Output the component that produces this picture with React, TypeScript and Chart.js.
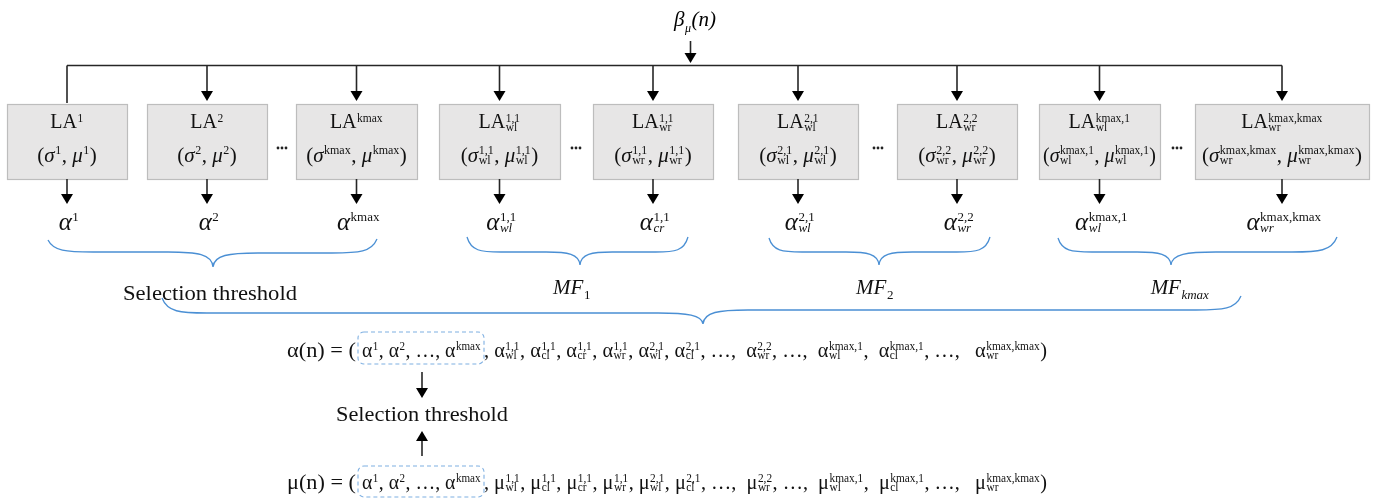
import React, { useEffect, useRef } from "react";
import { Chart, registerables } from "chart.js";
Chart.register(...registerables);

// ---------------- data ----------------
const BETA_LABEL = "~β~_{~μ}~(n)~";
const BOX_TITLES = ["LA^{1}", "LA^{2}", "LA^{kmax}", "LA_{wl}^{1,1}", "LA_{wr}^{1,1}", "LA_{wl}^{2,1}", "LA_{wr}^{2,2}", "LA_{wl}^{kmax,1}", "LA_{wr}^{kmax,kmax}"];
const BOX_PARAMS = ["(~σ~^{1}, ~μ~^{1})", "(~σ~^{2}, ~μ~^{2})", "(~σ~^{kmax}, ~μ~^{kmax})", "(~σ~_{wl}^{1,1}, ~μ~_{wl}^{1,1})", "(~σ~_{wr}^{1,1}, ~μ~_{wr}^{1,1})", "(~σ~_{wl}^{2,1}, ~μ~_{wl}^{2,1})", "(~σ~_{wr}^{2,2}, ~μ~_{wr}^{2,2})", "(~σ~_{wl}^{kmax,1}, ~μ~_{wl}^{kmax,1})", "(~σ~_{wr}^{kmax,kmax}, ~μ~_{wr}^{kmax,kmax})"];
const BOX_OUTPUTS = ["~α~^{1}", "~α~^{2}", "~α~^{kmax}", "~α~_{~wl}^{1,1}", "~α~_{~cr}^{1,1}", "~α~_{~wl}^{2,1}", "~α~_{~wr}^{2,2}", "~α~_{~wl}^{kmax,1}", "~α~_{~wr}^{kmax,kmax}"];
const BRACE_LABELS = ["Selection threshold", "~MF~_{1}", "~MF~_{2}", "~MF~_{~kmax}"];
const ROW_SYMBOLS = ["α", "μ"];
const ROW_BOXED = "α^{1}, α^{2}, …, α^{kmax}";
const ROW_TERMS = ["_{wl}^{1,1}", "_{cl}^{1,1}", "_{cr}^{1,1}", "_{wr}^{1,1}", "_{wl}^{2,1}", "_{cl}^{2,1}", "…", "_{wr}^{2,2}", "…", "_{wl}^{kmax,1}", "_{cl}^{kmax,1}", "…", "_{wr}^{kmax,kmax}"];
const ROW_SEPS = [", ", ", ", ", ", ", ", ", ", ", ", ",  ", ", ", ",  ", ",  ", ", ", ",   ", ")"];
const THRESHOLD_LABEL = "Selection threshold";

// ---------------- layout ----------------
const W = 1377, H = 502;
const BOX_L = [7, 147, 296, 439, 593, 738, 897, 1039, 1195];
const BOX_R = [127, 267, 417, 560, 713, 858, 1017, 1160, 1369];
const BOX_TOP = 104, BOX_BOT = 179;
const BUS_Y = 65.5;
const GAP_DOTS_X = [282, 576, 878, 1177];
const BRACES = [
  { x1: 48, y1: 240, x2: 377, y2: 239, xc: 213, fl: 252, fr: 253, tip: 267 },
  { x1: 467, y1: 237, x2: 688, y2: 237, xc: 580, fl: 252, fr: 252, tip: 265 },
  { x1: 769, y1: 238, x2: 990, y2: 237, xc: 879, fl: 252, fr: 252, tip: 265 },
  { x1: 1058, y1: 238, x2: 1337, y2: 237, xc: 1171, fl: 252, fr: 252, tip: 265 },
  { x1: 162, y1: 298, x2: 1241, y2: 296, xc: 703, fl: 313, fr: 310, tip: 324 },
];
const BRACE_LABEL_POS = [[210, 300], [572, 294], [875, 294], [1180, 294]];

const FAM = '"Liberation Serif", "DejaVu Serif", serif';
const ST = {
  title: { F: 20, f: 11.5, supDy: -6.5, subDy: 3 },
  param: { F: 21, f: 12, supDy: -8.5, subDy: 2 },
  alpha: { F: 25, f: 13, supDy: -9.5, subDy: 2 },
  beta: { F: 21, f: 12, supDy: -8, subDy: 6 },
  mf: { F: 21, f: 13, supDy: -8, subDy: 5 },
  sel: { F: 21, f: 12, supDy: -8, subDy: 3 },
  row: { F: 20.5, f: 11.5, supDy: -7, subDy: 1.5 },
};

type Tok = { k: "t"; text: string; it: boolean } | { k: "s"; sup?: { text: string; it: boolean }; sub?: { text: string; it: boolean } };

function parse(s: string): Tok[] {
  const toks: any[] = [];
  let it = false, buf = "", lastScript = false;
  const flush = () => { if (buf) { toks.push({ k: "t", text: buf, it }); buf = ""; } };
  for (let i = 0; i < s.length; i++) {
    const c = s[i];
    if (c === "~") { flush(); it = !it; lastScript = false; continue; }
    if (c === "^" || c === "_") {
      flush();
      let g: string;
      if (s[i + 1] === "{") { const j = s.indexOf("}", i + 2); g = s.slice(i + 2, j); i = j; }
      else { g = s[i + 1]; i++; }
      let grp = lastScript ? toks[toks.length - 1] : null;
      if (!grp) { grp = { k: "s" }; toks.push(grp); }
      grp[c === "^" ? "sup" : "sub"] = { text: g.replace(/~/g, ""), it: g.startsWith("~") };
      lastScript = true;
      continue;
    }
    lastScript = false;
    buf += c;
  }
  flush();
  return toks;
}

const font = (it: boolean, size: number) => `${it ? "italic " : ""}${size}px ${FAM}`;

function measureRich(ctx: CanvasRenderingContext2D, toks: Tok[], st: any) {
  let w = 0;
  for (const t of toks) {
    if (t.k === "t") { ctx.font = font(t.it, st.F); w += ctx.measureText(t.text).width; }
    else {
      let a = 0, b = 0;
      if (t.sup) { ctx.font = font(t.sup.it, st.f); a = ctx.measureText(t.sup.text).width; }
      if (t.sub) { ctx.font = font(t.sub.it, st.f); b = ctx.measureText(t.sub.text).width; }
      w += Math.max(a, b) + 1;
    }
  }
  return w;
}

function drawRich(ctx: CanvasRenderingContext2D, s: string, x: number, y: number, st: any, align: "left" | "center" | "right", opts: { target?: number; max?: number } = {}) {
  const toks = parse(s);
  const w = measureRich(ctx, toks, st);
  let sx = 1;
  if (opts.target) sx = opts.target / w;
  else if (opts.max && w > opts.max) sx = opts.max / w;
  const tw = w * sx;
  const x0 = align === "left" ? x : align === "center" ? x - tw / 2 : x - tw;
  ctx.save();
  ctx.translate(x0, y);
  ctx.scale(sx, 1);
  ctx.textBaseline = "alphabetic";
  ctx.textAlign = "left";
  let cx = 0;
  for (const t of toks) {
    if (t.k === "t") {
      ctx.font = font(t.it, st.F);
      ctx.fillText(t.text, cx, 0);
      cx += ctx.measureText(t.text).width;
    } else {
      let a = 0, b = 0;
      if (t.sup) { ctx.font = font(t.sup.it, st.f); ctx.fillText(t.sup.text, cx + 0.5, st.supDy); a = ctx.measureText(t.sup.text).width; }
      if (t.sub) { ctx.font = font(t.sub.it, st.f); ctx.fillText(t.sub.text, cx + 0.5, st.subDy); b = ctx.measureText(t.sub.text).width; }
      cx += Math.max(a, b) + 1;
    }
  }
  ctx.restore();
}

const diagramPlugin = {
  id: "diagram",
  beforeDraw(chart: any) {
    const ctx = chart.ctx;
    ctx.save();
    ctx.fillStyle = "#ffffff";
    ctx.fillRect(0, 0, chart.width, chart.height);
    ctx.restore();
  },
  afterDatasetsDraw(chart: any) {
    const ctx: CanvasRenderingContext2D = chart.ctx;
    const xs = chart.scales.x, ys = chart.scales.y;
    const X = (v: number) => xs.getPixelForValue(v);
    const Y = (v: number) => ys.getPixelForValue(v);
    const LINE = "#262626";

    const arrow = (x: number, y0: number, tip: number, up = false, head = true) => {
      const hh = 10, hw = 6;
      ctx.strokeStyle = LINE; ctx.fillStyle = "#000"; ctx.lineWidth = 1.6;
      ctx.beginPath();
      if (!up) { ctx.moveTo(X(x), Y(y0)); ctx.lineTo(X(x), Y(head ? tip - hh + 1 : tip)); }
      else { ctx.moveTo(X(x), Y(y0)); ctx.lineTo(X(x), Y(tip + hh - 1)); }
      ctx.stroke();
      if (!head) return;
      ctx.beginPath();
      if (!up) { ctx.moveTo(X(x - hw), Y(tip - hh)); ctx.lineTo(X(x + hw), Y(tip - hh)); ctx.lineTo(X(x), Y(tip)); }
      else { ctx.moveTo(X(x - hw), Y(tip + hh)); ctx.lineTo(X(x + hw), Y(tip + hh)); ctx.lineTo(X(x), Y(tip)); }
      ctx.closePath(); ctx.fill();
    };

    ctx.save();
    ctx.fillStyle = "#000";
    // β label and arrow
    drawRich(ctx, BETA_LABEL, X(695), Y(26), ST.beta, "center");
    arrow(690.5, 41, 63);

    // bus
    const centers = BOX_L.map((l, i) => (l + BOX_R[i]) / 2);
    ctx.strokeStyle = LINE; ctx.lineWidth = 1.6;
    ctx.beginPath();
    ctx.moveTo(X(centers[0]), Y(BUS_Y)); ctx.lineTo(X(centers[centers.length - 1]), Y(BUS_Y));
    ctx.stroke();

    // boxes
    BOX_TITLES.forEach((t, i) => {
      const cx = centers[i];
      if (i === 0) arrow(cx, BUS_Y, BOX_TOP - 1, false, false);
      else arrow(cx, BUS_Y, BOX_TOP - 3);
      ctx.fillStyle = "#E7E6E6"; ctx.strokeStyle = "#BDBDBD"; ctx.lineWidth = 1.2;
      ctx.fillRect(X(BOX_L[i]), Y(BOX_TOP), X(BOX_R[i]) - X(BOX_L[i]), Y(BOX_BOT) - Y(BOX_TOP));
      ctx.strokeRect(X(BOX_L[i]) + 0.5, Y(BOX_TOP) + 0.5, X(BOX_R[i]) - X(BOX_L[i]), Y(BOX_BOT) - Y(BOX_TOP));
      ctx.fillStyle = "#111";
      drawRich(ctx, t, X(cx), Y(128), ST.title, "center");
      drawRich(ctx, BOX_PARAMS[i], X(cx), Y(162), ST.param, "center", { max: X(BOX_R[i]) - X(BOX_L[i]) - 8 });
      arrow(cx, BOX_BOT, 204);
      ctx.fillStyle = "#111";
      drawRich(ctx, BOX_OUTPUTS[i], X(cx + 2), Y(230), ST.alpha, "center");
    });

    // gap dots
    ctx.fillStyle = "#222";
    GAP_DOTS_X.forEach((gx) => {
      for (let k = -1; k <= 1; k++) {
        ctx.beginPath(); ctx.arc(X(gx + k * 4), Y(148), 1.4, 0, Math.PI * 2); ctx.fill();
      }
    });

    // braces
    ctx.strokeStyle = "#4A8FD4"; ctx.lineWidth = 1.3;
    BRACES.forEach((b) => {
      const aL = Math.min(45, (b.xc - b.x1) * 0.3), aR = Math.min(45, (b.x2 - b.xc) * 0.3);
      ctx.beginPath();
      ctx.moveTo(X(b.x1), Y(b.y1));
      ctx.bezierCurveTo(X(b.x1 + aL * 0.12), Y(b.fl - 1), X(b.x1 + aL * 0.4), Y(b.fl), X(b.x1 + aL), Y(b.fl));
      ctx.lineTo(X(b.xc - aL), Y(b.fl));
      ctx.bezierCurveTo(X(b.xc - aL * 0.35), Y(b.fl), X(b.xc - 1), Y(b.fl + 2), X(b.xc), Y(b.tip));
      ctx.bezierCurveTo(X(b.xc + 1), Y(b.fr + 2), X(b.xc + aR * 0.35), Y(b.fr), X(b.xc + aR), Y(b.fr));
      ctx.lineTo(X(b.x2 - aR), Y(b.fr));
      ctx.bezierCurveTo(X(b.x2 - aR * 0.4), Y(b.fr), X(b.x2 - aR * 0.12), Y(b.fr - 1), X(b.x2), Y(b.y2));
      ctx.stroke();
    });

    // brace labels
    ctx.fillStyle = "#111";
    BRACE_LABELS.forEach((l, i) => {
      const [lx, ly] = BRACE_LABEL_POS[i];
      if (i === 0) drawRich(ctx, l, X(123), Y(ly), ST.sel, "left", { target: X(297) - X(123) });
      else drawRich(ctx, l, X(lx), Y(ly), ST.mf, "center");
    });

    // formula rows
    const rowY = [357, 489];
    const boxY = [[332, 364], [466, 497]];
    ROW_SYMBOLS.forEach((sym, r) => {
      ctx.fillStyle = "#111";
      drawRich(ctx, `${sym}(n) = (`, X(287), Y(rowY[r]), ST.row, "left", { target: X(356) - X(287) });
      drawRich(ctx, ROW_BOXED, X(362), Y(rowY[r]), ST.row, "left", { target: X(481) - X(362) });
      const suffix = ROW_TERMS.map((t, k) => (t === "…" ? "…" : sym + t) + ROW_SEPS[k]).join("");
      drawRich(ctx, ", " + suffix, X(484), Y(rowY[r]), ST.row, "left", { target: X(1047) - X(484) });
      // dashed box
      ctx.strokeStyle = "#7FB0E2"; ctx.lineWidth = 1.1; ctx.setLineDash([4, 3]);
      ctx.beginPath();
      (ctx as any).roundRect(X(358), Y(boxY[r][0]), X(484) - X(358), Y(boxY[r][1]) - Y(boxY[r][0]), 6);
      ctx.stroke();
      ctx.setLineDash([]);
    });

    // threshold and arrows
    arrow(422, 372, 398);
    ctx.fillStyle = "#111";
    drawRich(ctx, THRESHOLD_LABEL, X(336), Y(421), ST.sel, "left", { target: X(508) - X(336) });
    arrow(422, 456, 431, true);
    ctx.restore();
  },
};

export default function App() {
  const ref = useRef<HTMLCanvasElement>(null);
  useEffect(() => {
    if (!ref.current) return;
    const centers = BOX_L.map((l, i) => (l + BOX_R[i]) / 2);
    const chart = new Chart(ref.current, {
      type: "scatter",
      data: {
        datasets: [
          { label: "LA", data: BOX_TITLES.map((_, i) => ({ x: centers[i], y: (BOX_TOP + BOX_BOT) / 2 })), pointRadius: 0 },
        ],
      },
      options: {
        animation: false,
        responsive: false,
        devicePixelRatio: 1,
        layout: { padding: 0 },
        events: [],
        plugins: { legend: { display: false }, tooltip: { enabled: false }, title: { display: false } },
        scales: {
          x: { type: "linear", min: 0, max: W, display: false },
          y: { type: "linear", min: 0, max: H, reverse: true, display: false },
        },
      },
      plugins: [diagramPlugin],
    });
    return () => chart.destroy();
  }, []);
  return (
    <div style={{ position: "absolute", left: 0, top: 0, width: W, height: H, background: "#fff" }}>
      <canvas ref={ref} width={W} height={H} style={{ display: "block", width: W, height: H }} />
    </div>
  );
}
